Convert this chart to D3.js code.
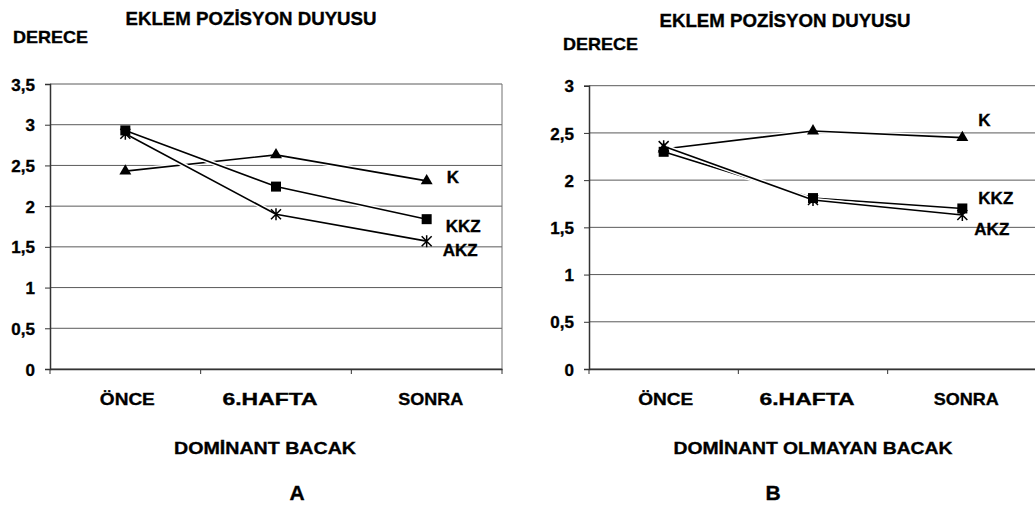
<!DOCTYPE html>
<html>
<head>
<meta charset="utf-8">
<script src="https://cdn.jsdelivr.net/npm/d3@7"></script>
<style>
  body { margin: 0; background: #fff; }
  text { font-family: "Liberation Sans", Arial, sans-serif; font-weight: bold; fill: #000;
         stroke: #000; stroke-width: 0.35px; }
</style>
</head>
<body>
<svg id="chart" width="1035" height="508"></svg>
<script>
// kategoriler ve seriler
const categories = ["ÖNCE", "6.HAFTA", "SONRA"];
const seriesNames = ["K", "KKZ", "AKZ"];
const seriesMarkers = ["triangle", "square", "asterisk"];

// A - dominant bacak
const domK   = [2.43, 2.63, 2.31];
const domKKZ = [2.93, 2.24, 1.84];
const domAKZ = [2.89, 1.90, 1.57];

// B - dominant olmayan bacak
const nonDomK   = [2.33, 2.52, 2.45];
const nonDomKKZ = [2.30, 1.81, 1.70];
const nonDomAKZ = [2.36, 1.79, 1.63];

const ticksA = [0, 0.5, 1, 1.5, 2, 2.5, 3, 3.5];
const ticksB = [0, 0.5, 1, 1.5, 2, 2.5, 3];

const title = "EKLEM POZİSYON DUYUSU";
const yTitle = "DERECE";

const svg = d3.select("#chart");
const fmt = v => String(v).replace(".", ",");

function txt(g, s, x, y, size, anchor, len){
    let t = g.append("text").attr("x", x).attr("y", y)
        .style("font-size", size+"px").attr("text-anchor", anchor || "start").text(s);
    if(len) t.attr("textLength", len).attr("lengthAdjust", "spacingAndGlyphs");
    return t;
}

function marker(g, type, x, y){
    switch (type) {
        case "triangle":
            g.append("path").attr("d", d3.symbol(d3.symbolTriangle, 62)())
                .attr("transform", `translate(${x},${y})`).attr("fill", "#000");
            break;
        case "square":
            g.append("rect").attr("x", x-5).attr("y", y-5).attr("width", 10).attr("height", 10)
                .attr("fill", "#000");
            break;
        case "asterisk":
            g.append("path")
                .attr("d", `M${x-5},${y-5}L${x+5},${y+5}M${x-5},${y+5}L${x+5},${y-5}M${x},${y-6}L${x},${y+6}`)
                .attr("stroke", "#000").attr("stroke-width", 1.5).attr("fill", "none");
            break;
    }
}

function drawPanel(p){
    let g = svg.append("g");
    let x = d3.scaleBand().domain(categories).range([p.left, p.right]).padding(0);
    let y = d3.scaleLinear().domain([0, p.yMax]).range([p.bottom, p.top]);

    // yatay izgara
    g.selectAll(".grid").data(p.ticks).enter().append("line")
        .attr("x1", p.left).attr("x2", p.right)
        .attr("y1", d=>y(d)).attr("y2", d=>y(d))
        .attr("stroke", "#5a5a5a").attr("stroke-width", 1);
    g.append("line").attr("x1", p.right).attr("x2", p.right)
        .attr("y1", p.top).attr("y2", p.bottom).attr("stroke", "#707070");

    // eksenler
    let ay = g.append("g").attr("transform", `translate(${p.left},0)`)
        .call(d3.axisLeft(y).tickValues(p.ticks).tickSize(5).tickFormat(fmt));
    ay.select(".domain").attr("stroke", "#333").attr("stroke-width", 1.5);
    ay.selectAll(".tick line").attr("stroke", "#333");
    ay.selectAll(".tick text").attr("x", -15).attr("dy", "0.36em")
        .style("font-size", "17px").style("font-weight", "bold")
        .style("font-family", "Liberation Sans, Arial, sans-serif").attr("fill", "#000");

    let ax = g.append("g").attr("transform", `translate(0,${p.bottom})`)
        .call(d3.axisBottom(x).tickSize(0).tickFormat(""));
    ax.select(".domain").attr("stroke", "#333").attr("stroke-width", 1.5);
    let bounds = categories.map(c=>x(c)).concat([p.right]);
    g.selectAll(".xt").data(bounds).enter().append("line")
        .attr("x1", d=>d).attr("x2", d=>d)
        .attr("y1", p.bottom).attr("y2", p.bottom+5).attr("stroke", "#333");

    categories.forEach((c,i)=>{
        txt(g, c, x(c)+x.bandwidth()/2 + p.catDx[i], 405, 17, "middle", p.catLen[i]);
    });

    // seriler
    p.series.forEach((vals,si)=>{
        let pts = vals.map((v,i)=>[x(categories[i])+x.bandwidth()/2, y(v)]);
        let line = d3.line()(pts);
        g.append("path").attr("d", line).attr("fill", "none")
            .attr("stroke", "#fff").attr("stroke-width", 4.5);
        g.append("path").attr("d", line).attr("fill", "none")
            .attr("stroke", "#000").attr("stroke-width", 1.6);
    });
    p.series.forEach((vals,si)=>{
        vals.forEach((v,i)=>marker(g, seriesMarkers[si], x(categories[i])+x.bandwidth()/2, y(v)));
        // seri etiketi
        let last = vals.length-1;
        txt(g, seriesNames[si], x(categories[last])+x.bandwidth()/2 + p.lab[si][0],
            y(vals[last]) + p.lab[si][1], 17, "start");
    });

    // basliklar
    txt(g, title, p.titleX, p.titleY, 18, "middle", 251);
    txt(g, yTitle, p.yTitleX, p.yTitleY, 17, "start", 75);
    txt(g, p.xTitle, p.xTitleX, 454, 17, "middle", p.xTitleLen);
    txt(g, p.letter, p.letterX, 500, 21, "middle");
}

drawPanel({
    left: 50, right: 502, top: 84, bottom: 369, yMax: 3.5, ticks: ticksA,
    series: [domK, domKKZ, domAKZ],
    lab: [[20, 2], [19, 13], [16, 15]],
    catLen: [55, 95, 65], catDx: [2, -6, 4],
    titleX: 251, titleY: 25, yTitleX: 13, yTitleY: 43,
    xTitle: "DOMİNANT BACAK", xTitleX: 265, xTitleLen: 182,
    letter: "A", letterX: 297
});

drawPanel({
    left: 589, right: 1037, top: 85.7, bottom: 369, yMax: 3, ticks: ticksB,
    series: [nonDomK, nonDomKKZ, nonDomAKZ],
    lab: [[16, -12], [16, -4], [12, 20]],
    catLen: [55, 95, 65], catDx: [2, -6, 4],
    titleX: 785, titleY: 27, yTitleX: 563, yTitleY: 50,
    xTitle: "DOMİNANT OLMAYAN BACAK", xTitleX: 813, xTitleLen: 279,
    letter: "B", letterX: 773
});
</script>
</body>
</html>
